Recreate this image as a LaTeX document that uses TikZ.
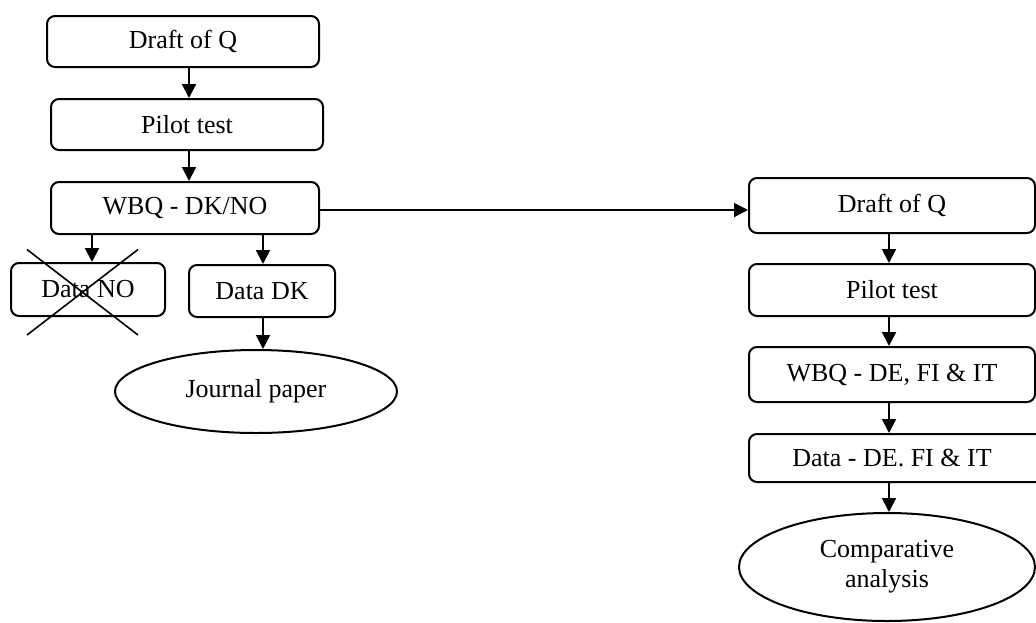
\documentclass[tikz,border=0pt]{standalone}
\usepackage{fontspec}
\setmainfont{Liberation Serif}
\usetikzlibrary{shapes.geometric,arrows.meta}
\begin{document}
\begin{tikzpicture}[x=0.75pt,y=-0.75pt,
  every node/.style={font=\fontsize{19.5}{22.5}\selectfont, inner sep=0pt},
  box/.style={draw, line width=1.5pt, rounded corners=6pt},
  oval/.style={draw, ellipse, line width=1.5pt, align=center},
  arr/.style={line width=1.5pt, -{Triangle[length=10.5pt,width=10.5pt]}},
  crossline/.style={line width=1.2pt}]
\clip (0,0) rectangle (1036,622);
% left column
\node[box, minimum width=204pt, minimum height=38.25pt] (d1) at (183,41.5) {Draft of Q};
\node[box, minimum width=204pt, minimum height=38.25pt] (p1) at (187,124.5) {Pilot test};
\node[box, minimum width=201pt, minimum height=39pt] (w1) at (185,208) {WBQ - DK/NO};
\node[box, minimum width=115.5pt, minimum height=39.75pt] (dno) at (88,289.5) {Data NO};
\node[box, minimum width=109.5pt, minimum height=39pt] (ddk) at (262,291) {Data DK};
\node[oval, minimum width=211.5pt, minimum height=62.25pt] (jp) at (256,391.5) {\raisebox{3pt}{Journal paper}};
% right column
\node[box, minimum width=214.5pt, minimum height=41.25pt] (d2) at (892,205.5) {Draft of Q};
\node[box, minimum width=214.5pt, minimum height=39pt] (p2) at (892,290) {Pilot test};
\node[box, minimum width=214.5pt, minimum height=41.25pt] (w2) at (892,374.5) {WBQ - DE, FI \& IT};
\node[box, minimum width=232.5pt, minimum height=36pt] (da2) at (904,458) {\hspace*{-18pt}Data - DE. FI \& IT};
\node[oval, minimum width=222pt, minimum height=81pt] (ca) at (887,567) {Comparative\\analysis};
% cross over Data NO
\draw[crossline] ([shift={(-61,-40)}]dno.center) -- ([shift={(50,45.5)}]dno.center);
\draw[crossline] ([shift={(-61,45.5)}]dno.center) -- ([shift={(50,-40)}]dno.center);
% connectors left
\draw[arr] ([xshift=4.5pt]d1.south) -- ([xshift=4.5pt]d1.south |- p1.north);
\draw[arr] ([xshift=1.5pt]p1.south) -- ([xshift=1.5pt]p1.south |- w1.north);
\draw[arr] ([xshift=3pt]dno.north |- w1.south) -- ([xshift=3pt]dno.north);
\draw[arr] ([xshift=0.75pt]ddk.north |- w1.south) -- ([xshift=0.75pt]ddk.north);
\draw[arr] ([xshift=0.75pt]ddk.south) -- ([xshift=0.75pt]ddk.south |- jp.north);
\draw[arr] ([yshift=-1.5pt]w1.east) -- ([yshift=-1.5pt]w1.east -| d2.west);
% connectors right
\draw[arr] ([xshift=-2.25pt]d2.south) -- ([xshift=-2.25pt]d2.south |- p2.north);
\draw[arr] ([xshift=-2.25pt]p2.south) -- ([xshift=-2.25pt]p2.south |- w2.north);
\draw[arr] ([xshift=-2.25pt]w2.south) -- ([xshift=-2.25pt]w2.south |- da2.north);
\draw[arr] ([xshift=-11.25pt]da2.south) -- ([xshift=-11.25pt]da2.south |- ca.north);
\end{tikzpicture}
\end{document}
